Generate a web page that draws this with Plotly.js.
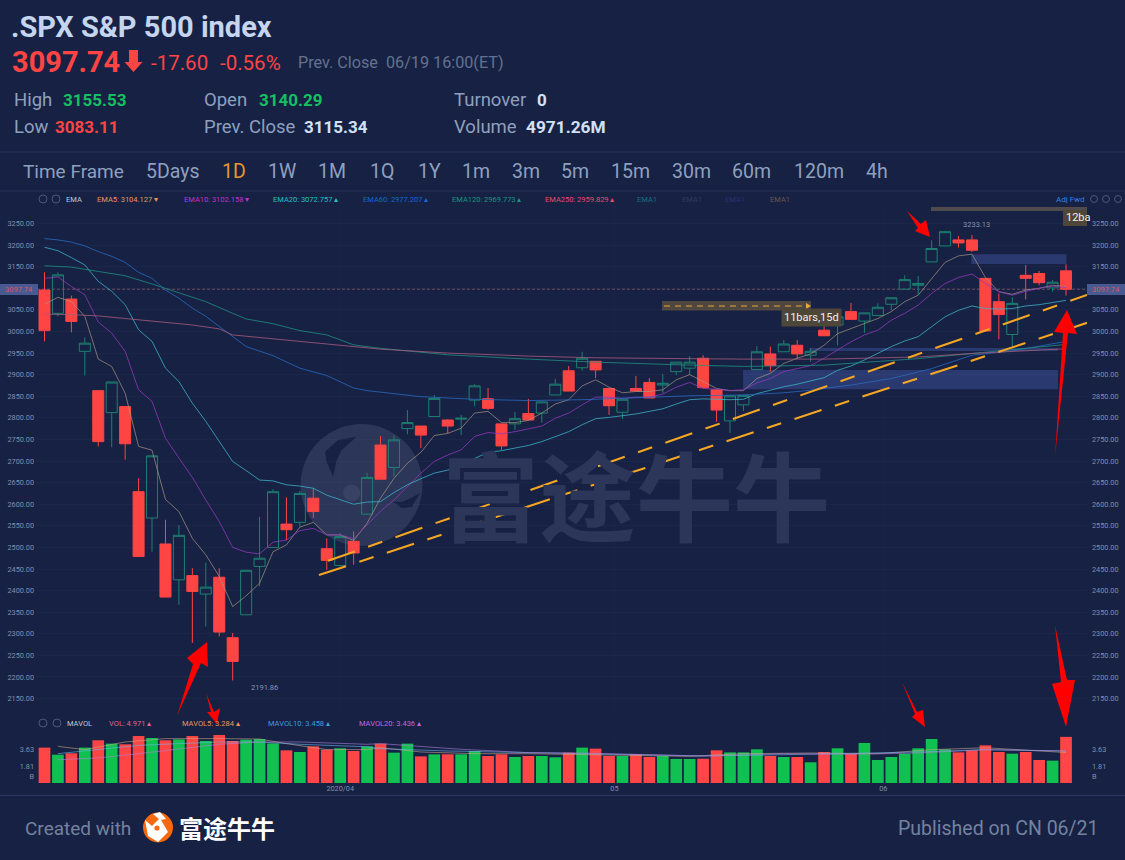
<!DOCTYPE html>
<html><head><meta charset="utf-8">
<script src="https://cdn.plot.ly/plotly-3.0.1.min.js"></script>
<style>html,body{margin:0;padding:0;background:#162144;overflow:hidden}#c{width:1125px;height:860px}</style>
</head><body><div id="c"></div>
<script>
// ---------- data ----------
const opens =[3096,3042,3075,2954,2863,2812,2826,2629,2568,2508,2425,2435,2392,2431,2291,2344,2456,2500,2554,2558,2614,2497,2458,2514,2577,2737,2685,2775,2781,2803,2795,2797,2841,2844,2786,2786,2810,2811,2853,2909,2916,2931,2868,2813,2868,2882,2876,2907,2915,2938,2865,2793,2830,2912,2948,2953,2968,2945,3003,3015,3046,3024,3037,3063,3098,3107,3161,3198,3212,3212,3123,3069,2993,3130,3134,3101,3140.29];
const closes=[3002,3131,3023,2973,2745,2883,2740,2479,2712,2385,2528,2398,2408,2304,2236,2447,2475,2629,2541,2625,2583,2470,2525,2487,2662,2658,2749,2789,2760,2845,2781,2799,2874,2822,2735,2798,2795,2837,2878,2862,2938,2911,2828,2843,2862,2846,2880,2929,2929,2870,2818,2851,2852,2953,2921,2971,2948,2954,2990,3034,3028,3043,3056,3078,3120,3111,3192,3231,3205,3188,3001,3039,3065,3123,3113,3114,3097.74];
const highs =[3137,3137,3083,2986,2863,2883,2826,2660,2712,2564,2552,2452,2465,2452,2302,2447,2571,2635,2616,2631,2637,2521,2533,2537,2673,2758,2760,2818,2781,2853,2797,2807,2878,2869,2786,2814,2844,2837,2890,2920,2953,2931,2868,2843,2897,2892,2902,2929,2943,2945,2865,2851,2852,2966,2965,2980,2980,2962,3017,3042,3066,3043,3065,3078,3130,3128,3211,3233.13,3221,3223,3123,3088,3079,3154,3140,3119,3155.53];
const lows  =[2977,3035,2998,2898,2734,2732,2703,2479,2490,2385,2367,2279,2317,2294,2191.86,2344,2410,2500,2517,2548,2568,2448,2458,2460,2575,2658,2664,2762,2730,2803,2764,2760,2827,2818,2726,2772,2795,2789,2853,2862,2909,2892,2807,2797,2862,2846,2857,2899,2899,2870,2791,2765,2816,2912,2907,2953,2937,2930,2990,2968,3028,2997,3037,3049,3098,3086,3161,3198,3194,3184,3001,2982,2965,3074,3107,3092,3083.11];
const volumes=[3.81,3.05,3.2,3.81,4.6,4.24,4.17,5.06,4.85,4.6,4.7,5.06,4.53,5.17,4.53,4.67,4.74,4.27,3.52,3.34,3.95,3.59,3.74,3.45,3.95,4.24,3.27,4.24,2.87,3.09,3.09,3.09,3.45,2.91,3.09,2.8,2.91,2.91,2.77,3.27,3.81,3.7,2.91,2.91,3.09,2.8,2.91,2.59,2.59,2.62,3.52,3.3,3.3,3.63,2.91,2.8,2.8,2.23,3.34,3.74,3.13,4.31,2.48,2.8,3.16,3.74,4.74,3.63,3.3,3.52,4.06,3.34,3.16,3.34,2.48,2.41,4.971];

const ema5 =[3063,3079,3069,3035,2936,2919,2857,2734,2725,2611,2583,2521,2483,2433,2363,2388,2417,2490,2506,2547,2558,2529,2529,2516,2556,2614,2660,2695,2720,2759,2764,2776,2811,2815,2789,2789,2794,2811,2832,2842,2874,2888,2871,2858,2861,2861,2865,2888,2900,2884,2868,2863,2863,2891,2903,2926,2938,2948,2968,2995,3007,3019,3030,3046,3069,3084,3123,3160,3175,3179,3125,3092,3086,3096,3100,3107,3104];
const ema10=[3123,3126,3104,3085,3022,2996,2954,2865,2838,2753,2707,2662,2610,2560,2500,2489,2485,2512,2517,2539,2544,2529,2529,2520,2552,2584,2610,2641,2672,2699,2714,2726,2757,2766,2763,2768,2774,2781,2799,2811,2830,2848,2848,2845,2848,2848,2855,2871,2882,2868,2866,2863,2865,2881,2891,2907,2914,2921,2938,2957,2976,2992,3003,3026,3042,3061,3088,3111,3125,3133,3111,3092,3084,3093,3100,3105,3102];
const ema20=[3195,3187,3171,3154,3116,3093,3062,3004,2977,2915,2884,2834,2792,2745,2699,2678,2656,2654,2645,2642,2637,2621,2610,2600,2605,2606,2627,2645,2659,2672,2679,2689,2706,2720,2724,2730,2736,2745,2757,2768,2784,2798,2801,2805,2809,2815,2821,2832,2842,2844,2843,2842,2843,2856,2864,2872,2878,2886,2893,2910,2920,2934,2949,2965,2978,2988,3011,3034,3049,3059,3053,3052,3053,3059,3062,3067,3072];
const ema60Idx=[0,1,2,3,4,5,6,7,8,9,10,11,12,13,14,15,17,19,21,23,24,28,32,36,40,44,48,52,55,57,60,63,66,69,72,76];
const ema60Val=[3215,3212,3207,3198,3185,3174,3160,3137,3123,3096,3077,3054,3035,3012,2988,2965,2944,2915,2898,2869,2863,2849,2843,2840,2842,2847,2851,2853,2858,2864,2876,2891,2914,2945,2955,2977];
const ema120Idx=[0,2,4,6,8,10,12,14,15,17,19,21,23,25,30,36,41,47,52,58,62,65,69,72,76];
const ema120Val=[3152,3149,3139,3129,3110,3089,3069,3042,3029,3018,3002,2992,2969,2961,2946,2936,2929,2923,2919,2922,2930,2937,2949,2958,2970];
const ema250Idx=[0,2,4,8,11,13,14,17,19,22,25,30,36,41,47,52,58,65,69,76];
const ema250Val=[3040,3039,3036,3025,3015,3006,2992,2983,2977,2968,2959,2950,2943,2939,2937,2936,2936,2941,2949,2960];
const mavol5Idx=[1,3,6,9,13,16,18,21,24,25,28,32,36,42,48,52,57,62,66,70,74,76];
const mavol5Val=[3.95,3.59,4.42,4.78,4.78,4.74,4.24,3.6,3.6,3.8,3.34,3.16,3.16,2.98,2.87,3.16,3.23,3.16,3.59,3.8,3.45,3.28];
const mavol10Idx=[1,4,7,10,13,16,19,24,25,30,36,40,44,49,55,60,65,70,76];
const mavol10Val=[3.16,3.59,4.06,4.24,4.42,4.42,4.17,3.9,3.7,3.45,3.23,3.16,3.05,2.91,3.05,3.16,3.34,3.59,3.46];
const mavol20Idx=[1,4,7,10,13,16,19,24,25,31,36,40,44,49,55,60,65,70,76];
const mavol20Val=[2.5,2.7,3.16,3.7,4.17,4.42,4.42,4.17,4.24,3.63,3.27,3.23,3.09,2.91,3.16,3.09,3.23,3.59,3.44];
const priceTicks=[3250,3200,3150,3100,3050,3000,2950,2900,2850,2800,2750,2700,2650,2600,2550,2500,2450,2400,2350,2300,2250,2200,2150];
const priceTickText=['3250.00','3200.00','3150.00','','3050.00','3000.00','2950.00','2900.00','2850.00','2800.00','2750.00','2700.00','2650.00','2600.00','2550.00','2500.00','2450.00','2400.00','2350.00','2300.00','2250.00','2200.00','2150.00'];
const volTicks=[3.63,1.81,0.75];
const volTickText=['3.63','1.81','B'];
const dateTicks=[22,42.4,62.4];
const dateTickText=['2020/04','05','06'];
const index=opens.map((_,i)=>i);

// ---------- helpers (page pixels -> paper fractions) ----------
const W=1125,H=860;
const px=x=>x/W, py=y=>1-y/H;
const BG='#162144';
const TXT=(text,x,y,size,color,o={})=>({text,x:px(x),y:py(y),xref:'paper',yref:'paper',showarrow:false,
  xanchor:o.anchor||'left',yanchor:'middle',align:o.anchor||'left',bgcolor:o.bg,borderpad:o.pad||0,
  font:{family:o.family||'Roboto, sans-serif',size,color,weight:o.weight||400}});
const poly=(pts,fill,layer)=>({type:'path',xref:'paper',yref:'paper',layer:layer||'above',fillcolor:fill,line:{width:0},
  path:'M'+pts.map(p=>px(p[0])+','+py(p[1])).join('L')+'Z'});
const rect=(x0,y0,x1,y1,fill,layer)=>({type:'rect',xref:'paper',yref:'paper',x0:px(x0),x1:px(x1),y0:py(y1),y1:py(y0),fillcolor:fill,line:{width:0},layer:layer||'above'});
const hline=(x0,x1,y,c)=>({type:'line',xref:'paper',yref:'paper',x0:px(x0),x1:px(x1),y0:py(y),y1:py(y),line:{color:c,width:1},layer:'below'});
const circle=(cx,cy,r,fill,lc,layer)=>({type:'circle',xref:'paper',yref:'paper',x0:px(cx-r),x1:px(cx+r),y0:py(cy+r),y1:py(cy-r),fillcolor:fill,line:{color:lc||'rgba(0,0,0,0)',width:lc?0.8:0},layer:layer||'above'});
const dataRect=(i0,i1,p0,p1,fill)=>({type:'rect',xref:'x',yref:'y',x0:i0,x1:i1,y0:p0,y1:p1,fillcolor:fill,line:{width:0},layer:'below'});

const line=(x,y,color,w,xa,ya)=>({type:'scatter',mode:'lines',x,y,xaxis:xa,yaxis:ya,line:{color,width:w||0.8},hoverinfo:'skip',showlegend:false});
const upCol='#1d8070', dnCol='#ff4444';
const traces=[
 {type:'candlestick',x:index,open:opens,high:highs,low:lows,close:closes,xaxis:'x',yaxis:'y',
  increasing:{line:{color:upCol,width:1},fillcolor:'rgba(0,0,0,0)'},
  decreasing:{line:{color:dnCol,width:1},fillcolor:dnCol},whiskerwidth:0,hoverinfo:'skip',showlegend:false},
 line(index,ema5,'#a89682',0.7,'x','y'),
 line(index,ema10,'#8f3ab8',0.8,'x','y'),
 line(index,ema20,'#3db0c4',0.8,'x','y'),
 line(ema60Idx,ema60Val,'#2a69c0',0.8,'x','y'),
 line(ema120Idx,ema120Val,'#1f8f80',0.8,'x','y'),
 line(ema250Idx,ema250Val,'#a85c7c',0.8,'x','y'),
 {type:'bar',x:index,y:volumes,xaxis:'x2',yaxis:'y2',width:0.87,
  marker:{color:index.map(i=>closes[i]<opens[i]?'#ff4545':'#10c050'),line:{width:0}},hoverinfo:'skip',showlegend:false},
 line(mavol5Idx,mavol5Val,'#c9a58a',0.6,'x2','y2'),
 line(mavol10Idx,mavol10Val,'#6fb3e8',0.6,'x2','y2'),
 line(mavol20Idx,mavol20Val,'#b07fd8',0.6,'x2','y2'),
 {type:'scatter',mode:'none',x:[0],y:[3000],xaxis:'x',yaxis:'y3',hoverinfo:'skip',showlegend:false},
 {type:'scatter',mode:'none',x:[0],y:[1],xaxis:'x2',yaxis:'y4',hoverinfo:'skip',showlegend:false}
];

const tickFont={family:'Roboto, sans-serif',size:7.3,color:'#8590aa'};
const gridH='rgba(255,255,255,0.022)', gridV='rgba(255,255,255,0.012)';
const yBase={tickvals:priceTicks,ticktext:priceTickText,range:[2112,3292.8],domain:[py(715),py(205)],tickfont:tickFont,ticks:'',showline:false,zeroline:false};
const vBase={tickvals:volTicks,ticktext:volTickText,range:[0,5.71],domain:[py(783),py(730)],tickfont:tickFont,ticks:'',showline:false,zeroline:false,showgrid:false};

const dash='28.5px,14px,15px,14px';
const shapes=[
 // watermark
 circle(361.5,485,61,'#2b3659',null,'below'),
 poly([[356.7,436.7],[338,440],[325,451.7],[326.7,461.7],[333,476.7],[336.7,460],[341.7,450]],BG,'below'),
 poly([[393,501.7],[401.7,508],[411.7,507],[420,493],[411,498],[402,502]],BG,'below'),
 circle(351.7,493,8.5,'#374264',null,'below'),
 // dividers
 hline(0,W,152,'#263154'),hline(0,W,191,'#263154'),hline(0,W,795.5,'#2c3862'),
 // zones
 dataRect(68.95,76.03,3179,3156,'#2a3a70'),
 dataRect(56.9,75.4,2962,2955,'#2a3a70'),
 dataRect(51.97,75.4,2911,2866,'#2a3a70'),
 // measure boxes
 rect(931,207,1087,211,'#4f4a4c','below'),
 rect(662,301,811,310.5,'#4f463f','below'),
 rect(1063,210,1087,226,'#4f463a'),
 {type:'line',xref:'paper',yref:'paper',x0:px(664),x1:px(808),y0:py(306),y1:py(306),line:{color:'#e8a83a',width:1,dash:'6px,5px'},layer:'above'},
 poly([[806,303],[811,306],[806,309]],'#e8a83a'),
 // last price line
 {type:'line',xref:'x',yref:'y',x0:-0.558,x1:77.56,y0:3097.74,y1:3097.74,line:{color:'rgba(224,120,120,0.65)',width:0.7,dash:'3px,2px'},layer:'below'},
 rect(0,284,38,295,'#495a93'),rect(1087,284,1125,295,'#495a93'),
 // trend channel
 {type:'line',xref:'x',yref:'y',x0:21.09,y0:2469,x1:77.56,y1:3084.5,line:{color:'#f5a623',width:2.1,dash},layer:'above'},
 {type:'line',xref:'x',yref:'y',x0:20.42,y0:2436,x1:77.56,y1:3020,line:{color:'#f5a623',width:2.1,dash},layer:'above'},
 // red hand-drawn arrows
 poly([[177,716],[193,664],[187,658],[207,642],[208,667],[201,663]],'#fe0000'),
 poly([[206,693],[214,712],[220,708],[217,724],[207,712],[211,712]],'#fe0000'),
 poly([[907,211],[921,224],[926,220],[930,237],[915,231],[918,228]],'#fe0000'),
 poly([[1055,457],[1063,333],[1054,332],[1067,310],[1077,334],[1068,333]],'#fe0000'),
 poly([[1055,625],[1061,682],[1052,684],[1066,727],[1075,680],[1067,680]],'#fe0000'),
 poly([[902,682],[917,712],[923,710],[925,727],[912,717],[915,714]],'#fe0000'),
 // header arrow
 poly([[129,50],[138,50],[138,62],[142.5,62],[133.5,72],[124.5,62],[129,62]],'#ff4444'),
 // toolbar icons
 circle(43,199,4,'rgba(0,0,0,0)','#5a6583'),circle(56,199,4,'rgba(0,0,0,0)','#5a6583'),
 circle(43,723,4,'rgba(0,0,0,0)','#5a6583'),circle(57,723,4,'rgba(0,0,0,0)','#5a6583'),
 circle(1106,199,3.5,'rgba(0,0,0,0)','#5a6583'),circle(1118,199,3.5,'rgba(0,0,0,0)','#5a6583'),circle(1094,199,3.5,'rgba(0,0,0,0)','#5a6583'),
 // footer logo
 circle(158,827.5,15,'#f7690f'),
 poly([[145,820],[152,826],[160,818],[168,832],[158,842],[148,836]],'#ffffff'),
 poly([[153,814],[160,812],[166,819],[160,820]],'#ffffff'),
 circle(157,828,2.6,'#f7690f')
];

const lab='#8fa0bf', val='#d4e0f5', red='#ff4444', grn='#15c060';
const annotations=[
 TXT('.SPX S&P 500 index',10,27,29,'#c5d5ee',{weight:700}),
 TXT('3097.74',11,62,29,red,{weight:700}),
 TXT('-17.60',150,63,20.5,red),TXT('-0.56%',219,63,20.5,red),
 TXT('Prev. Close  06/19 16:00(ET)',297,63,16.2,'#64728f'),
 TXT('High',13,100,18.5,lab),TXT('3155.53',62,100,17,grn,{weight:700}),
 TXT('Open',203,100,18.5,lab),TXT('3140.29',258,100,17,grn,{weight:700}),
 TXT('Turnover',453,100,18.5,lab),TXT('0',536,100,17,val,{weight:700}),
 TXT('Low',13,127,18.5,lab),TXT('3083.11',54,127,17,red,{weight:700}),
 TXT('Prev. Close',203,127,18.5,lab),TXT('3115.34',303,127,17,val,{weight:700}),
 TXT('Volume',453,127,18.5,lab),TXT('4971.26M',525,127,17.3,val,{weight:700}),
 TXT('Time Frame',22,171,19,lab),TXT('5Days',144.5,171,19.5,lab),TXT('1D',221,171,19.5,'#e8962e'),
 TXT('1W',267,171,19.5,lab),TXT('1M',317,171,19.5,lab),TXT('1Q',369,171,19.5,lab),TXT('1Y',417,171,19.5,lab),
 TXT('1m',461,171,19.5,lab),TXT('3m',511,171,19.5,lab),TXT('5m',560,171,19.5,lab),TXT('15m',610,171,19.5,lab),
 TXT('30m',671,171,19.5,lab),TXT('60m',731,171,19.5,lab),TXT('120m',793,171,19.5,lab),TXT('4h',865,171,19.5,lab),
 // EMA legend row
 TXT('EMA',65,199,7.5,'#c0c8da'),
 TXT('EMA5: 3104.127 ▾',96,199,7.5,'#e6995a'),
 TXT('EMA10: 3102.158 ▾',183,199,7.5,'#c22fd2'),
 TXT('EMA20: 3072.757 ▴',272,199,7.5,'#19c2ca'),
 TXT('EMA60: 2977.207 ▴',362,199,7.5,'#1568d8'),
 TXT('EMA120: 2969.773 ▴',451,199,7.5,'#149a82'),
 TXT('EMA250: 2959.829 ▴',544,199,7.5,'#e84c6c'),
 TXT('EMA1',636,199,7.5,'#1a6f85'),TXT('EMA1',681,199,7.5,'#2c3e5f'),
 TXT('EMA1',724,199,7.5,'#2f3072'),TXT('EMA1',769,199,7.5,'#6a5a50'),
 TXT('Adj Fwd',1055,199,8,'#3f80d4'),
 // MAVOL legend row
 TXT('MAVOL',66,723,7.5,'#c0c8da'),
 TXT('VOL: 4.971 ▴',108,723,7.5,'#e2658a'),
 TXT('MAVOL5: 3.284 ▴',181,723,7.5,'#e6995a'),
 TXT('MAVOL10: 3.458 ▴',267,723,7.5,'#3d9fd8'),
 TXT('MAVOL20: 3.436 ▴',358,723,7.5,'#c06ad8'),
 // marks
 TXT('3233.13',976,224.5,7.5,'#8a94ac',{anchor:'center'}),
 TXT('2191.86',264,687.5,7.5,'#8a94ac',{anchor:'center'}),
 TXT('11bars,15d',811,318,11,'#f3efe6',{anchor:'center',bg:'#4f463a',pad:2}),
 TXT('12ba',1065,217.5,11,'#f3efe6'),
 TXT('3097.74',18.5,289.5,7.5,'#d9585e',{anchor:'center'}),
 TXT('3097.74',1106,289.5,7.5,'#d9585e',{anchor:'center'}),
 // watermark text
 TXT('富途牛牛',441,491,97,'#2b3659',{family:'"Noto Sans CJK SC", sans-serif',weight:700}),
 // footer
 TXT('Created with',24,828,19,'#74829f'),
 TXT('富途牛牛',178,827,24,'#ffffff',{family:'"Noto Sans CJK SC", sans-serif',weight:700}),
 TXT('Published on CN 06/21',1100,828,19.5,'#74829f',{anchor:'right'})
];

const layout={
 width:W,height:H,margin:{l:0,r:0,t:0,b:0},paper_bgcolor:BG,plot_bgcolor:'rgba(0,0,0,0)',showlegend:false,
 boxgap:0.18,boxgroupgap:0,hovermode:false,dragmode:false,font:{family:'Roboto, sans-serif'},
 xaxis:{type:'linear',domain:[px(37),px(1087)],range:[-0.558,77.56],anchor:'y',showticklabels:false,ticks:'',tickvals:dateTicks,
   showgrid:true,gridcolor:gridV,zeroline:false,rangeslider:{visible:false},fixedrange:true},
 xaxis2:{type:'linear',domain:[px(37),px(1087)],range:[-0.558,77.56],anchor:'y2',tickvals:dateTicks,ticktext:dateTickText,tickfont:tickFont,
   ticks:'',showgrid:true,gridcolor:gridV,zeroline:false,fixedrange:true},
 yaxis:Object.assign({},yBase,{anchor:'x',side:'left',showgrid:true,gridcolor:gridH,ticklabelstandoff:2,fixedrange:true}),
 yaxis3:Object.assign({},yBase,{overlaying:'y',anchor:'x',side:'right',showgrid:false,ticklabelstandoff:4,fixedrange:true}),
 yaxis2:Object.assign({},vBase,{anchor:'x2',side:'left',ticklabelstandoff:2,fixedrange:true}),
 yaxis4:Object.assign({},vBase,{overlaying:'y2',anchor:'x2',side:'right',ticklabelstandoff:4,fixedrange:true}),
 shapes,annotations
};
Plotly.newPlot('c',traces,layout,{staticPlot:true,displayModeBar:false});
</script></body></html>
